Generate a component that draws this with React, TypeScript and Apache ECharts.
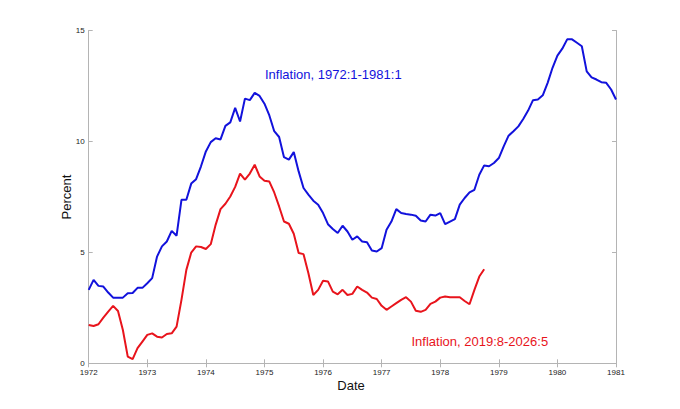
import React, { useEffect, useRef } from "react";
import * as echarts from "echarts";

// Monthly inflation, 1972:1 - 1981:1 (percent)
const blueValues = [
  3.31, 3.76, 3.49, 3.46, 3.19, 2.96, 2.96, 2.96, 3.16, 3.17, 3.40, 3.40,
  3.61, 3.84, 4.81, 5.27, 5.49, 5.97, 5.75, 7.37, 7.37, 8.10, 8.30, 8.88,
  9.55, 9.97, 10.14, 10.09, 10.70, 10.86, 11.51, 10.90, 11.93, 11.86, 12.19, 12.05,
  11.70, 11.17, 10.46, 10.20, 9.29, 9.18, 9.52, 8.65, 7.90, 7.60, 7.33, 7.15,
  6.77, 6.27, 6.05, 5.87, 6.20, 5.94, 5.57, 5.72, 5.49, 5.46, 5.08, 5.04,
  5.19, 6.02, 6.39, 6.95, 6.77, 6.73, 6.70, 6.65, 6.44, 6.39, 6.70, 6.66,
  6.77, 6.27, 6.39, 6.50, 7.15, 7.45, 7.70, 7.82, 8.50, 8.92, 8.88, 9.03,
  9.25, 9.78, 10.26, 10.46, 10.68, 11.01, 11.39, 11.86, 11.89, 12.08, 12.64, 13.32,
  13.87, 14.18, 14.60, 14.60, 14.45, 14.29, 13.16, 12.89, 12.79, 12.67, 12.64, 12.34,
  11.89,
];

// Monthly inflation, 2019:8 - 2026:5 (percent), aligned to start at 1972:1
const redValues = [
  1.73, 1.68, 1.76, 2.06, 2.33, 2.59, 2.36, 1.50, 0.30, 0.19, 0.68, 0.98,
  1.28, 1.35, 1.20, 1.16, 1.32, 1.35, 1.65, 2.86, 4.21, 4.99, 5.27, 5.24,
  5.15, 5.37, 6.24, 6.95, 7.19, 7.52, 7.95, 8.55, 8.28, 8.55, 8.95, 8.42,
  8.23, 8.19, 7.70, 7.07, 6.39, 6.29, 5.84, 4.97, 4.92, 4.06, 3.08, 3.31,
  3.72, 3.69, 3.23, 3.11, 3.31, 3.08, 3.13, 3.46, 3.31, 3.19, 2.96, 2.90,
  2.59, 2.41, 2.56, 2.71, 2.86, 2.98, 2.78, 2.37, 2.32, 2.41, 2.68, 2.78,
  2.96, 3.01, 2.98, 2.98, 2.98, 2.81, 2.66, 3.31, 3.91, 4.24,
];

const startYear = 1972;
const yTicks = [0, 5, 10, 15];
const blueLabel = "Inflation, 1972:1-1981:1";
const redLabel = "Inflation, 2019:8-2026:5";

const months: string[] = blueValues.map((_, i) => {
  const y = startYear + Math.floor(i / 12);
  const m = (i % 12) + 1;
  return `${y}:${m}`;
});

const FONT = "'Liberation Sans', Arial, Helvetica, sans-serif";
const FRAME = "#b4b4b4";

export default function App() {
  const ref = useRef<HTMLDivElement>(null);

  useEffect(() => {
    if (!ref.current) return;
    const chart = echarts.init(ref.current, undefined, { renderer: "svg" });
    const yearTick = (index: number) => index % 12 === 0;
    const baseX = {
      type: "category" as const,
      data: months,
      boundaryGap: false,
      axisLine: { show: true, lineStyle: { color: FRAME, width: 1 } },
      axisTick: { show: true, inside: true, length: 4, interval: yearTick, lineStyle: { color: FRAME } },
      splitLine: { show: false },
    };
    const baseY = {
      type: "value" as const,
      min: yTicks[0],
      max: yTicks[yTicks.length - 1],
      interval: 5,
      axisLine: { show: true, lineStyle: { color: FRAME, width: 1 } },
      axisTick: { show: true, inside: true, length: 4, lineStyle: { color: FRAME } },
      splitLine: { show: false },
    };
    chart.setOption({
      animation: false,
      backgroundColor: "#ffffff",
      grid: { left: 88.7, right: 64, top: 30.5, bottom: 45.7, containLabel: false },
      xAxis: [
        {
          ...baseX,
          position: "bottom",
          axisLabel: {
            show: true,
            interval: yearTick,
            formatter: (v: string) => v.split(":")[0],
            color: "#222",
            fontSize: 8,
            fontFamily: FONT,
            margin: 5,
          },
        },
        {
          ...baseX,
          position: "top",
          axisLabel: { show: false },
        },
      ],
      yAxis: [
        {
          ...baseY,
          position: "left",
          axisLabel: { show: true, color: "#222", fontSize: 8, fontFamily: FONT, margin: 4 },
        },
        {
          ...baseY,
          position: "right",
          axisLabel: { show: false },
        },
      ],
      series: [
        {
          type: "line",
          data: blueValues,
          xAxisIndex: 0,
          yAxisIndex: 0,
          showSymbol: false,
          symbol: "none",
          lineStyle: { color: "#1212dc", width: 2 },
          z: 3,
        },
        {
          type: "line",
          data: redValues,
          xAxisIndex: 0,
          yAxisIndex: 0,
          showSymbol: false,
          symbol: "none",
          lineStyle: { color: "#e8141c", width: 2 },
          z: 2,
        },
      ],
      graphic: [
        {
          type: "text",
          left: 265,
          top: 68,
          style: { text: blueLabel, fill: "#1212dc", fontSize: 13, fontFamily: FONT },
        },
        {
          type: "text",
          left: 411.5,
          top: 335,
          style: { text: redLabel, fill: "#e8141c", fontSize: 13, fontFamily: FONT },
        },
        {
          type: "text",
          x: 351,
          y: 385,
          style: { text: "Date", fill: "#111", fontSize: 13, fontFamily: FONT, align: "center", verticalAlign: "middle" },
        },
        {
          type: "text",
          x: 66,
          y: 197,
          rotation: Math.PI / 2,
          style: { text: "Percent", fill: "#111", fontSize: 13, fontFamily: FONT, align: "center", verticalAlign: "middle" },
        },
      ],
    });
    return () => chart.dispose();
  }, []);

  return <div ref={ref} style={{ width: 680, height: 409, margin: -8 }} />;
}
